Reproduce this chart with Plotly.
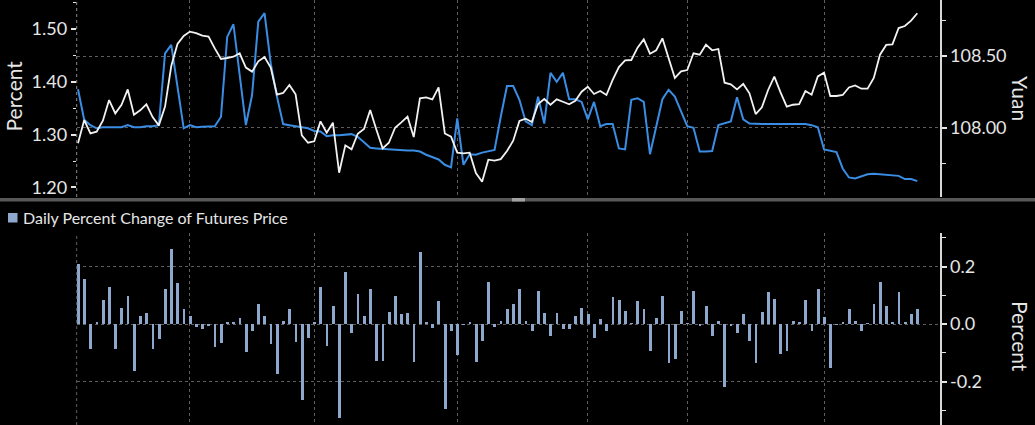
import plotly.graph_objects as go

# trading-day index (x)
days = list(range(136))

# month-start gridline positions (trading-day index)
month_starts = [18, 38, 61, 82, 98, 120]

# Blue line: Percent (left axis)
rate_pct = [
    1.386, 1.328, 1.318, 1.312, 1.314, 1.314, 1.314, 1.314, 1.318, 1.314,
    1.314, 1.316, 1.316, 1.318, 1.454, 1.470, 1.391, 1.312, 1.318, 1.314,
    1.315, 1.315, 1.316, 1.334, 1.485, 1.509, 1.416, 1.318, 1.375, 1.514,
    1.530, 1.435, 1.372, 1.320, 1.318, 1.316, 1.314, 1.312, 1.307, 1.306,
    1.297, 1.299, 1.299, 1.300, 1.301, 1.296, 1.285, 1.275, 1.274, 1.273,
    1.273, 1.272, 1.270, 1.270, 1.270, 1.268, 1.262, 1.257, 1.253, 1.243,
    1.238, 1.331, 1.243, 1.263, 1.262, 1.266, 1.268, 1.271, 1.334, 1.392,
    1.392, 1.366, 1.325, 1.318, 1.372, 1.321, 1.417, 1.400, 1.417, 1.367,
    1.367, 1.362, 1.329, 1.362, 1.316, 1.320, 1.320, 1.274, 1.272, 1.366,
    1.369, 1.362, 1.263, 1.315, 1.367, 1.385, 1.372, 1.344, 1.316, 1.313,
    1.268, 1.268, 1.269, 1.318, 1.321, 1.325, 1.371, 1.329, 1.321, 1.320,
    1.320, 1.320, 1.320, 1.320, 1.320, 1.321, 1.320, 1.320, 1.318, 1.314,
    1.272, 1.270, 1.267, 1.236, 1.219, 1.217, 1.221, 1.225, 1.226, 1.225,
    1.224, 1.222, 1.222, 1.216, 1.216, 1.212,
]

# White line: futures price, Yuan (right axis)
futures_yuan = [
    107.891, 108.053, 107.960, 107.972, 108.049, 108.193, 108.100, 108.160, 108.267, 108.091,
    108.121, 108.163, 108.074, 108.016, 108.147, 108.430, 108.584, 108.640, 108.670, 108.660,
    108.642, 108.635, 108.553, 108.479, 108.486, 108.495, 108.519, 108.419, 108.391, 108.463,
    108.493, 108.419, 108.230, 108.242, 108.298, 108.233, 107.947, 107.895, 107.905, 108.044,
    107.965, 108.035, 107.686, 107.877, 107.849, 107.958, 107.991, 108.123, 107.986, 107.856,
    107.895, 108.000, 108.037, 108.077, 107.935, 108.205, 108.212, 108.198, 108.281, 107.960,
    107.937, 107.826, 107.821, 107.826, 107.684, 107.623, 107.777, 107.770, 107.781, 107.837,
    107.909, 108.047, 108.063, 108.040, 108.165, 108.200, 108.160, 108.198, 108.181, 108.163,
    108.188, 108.251, 108.286, 108.235, 108.256, 108.228, 108.333, 108.423, 108.470, 108.472,
    108.558, 108.616, 108.516, 108.540, 108.623, 108.477, 108.347, 108.393, 108.402, 108.519,
    108.509, 108.579, 108.540, 108.549, 108.314, 108.302, 108.267, 108.305, 108.240, 108.095,
    108.142, 108.263, 108.356, 108.247, 108.147, 108.160, 108.165, 108.256, 108.230, 108.358,
    108.384, 108.221, 108.221, 108.228, 108.281, 108.295, 108.272, 108.272, 108.347, 108.509,
    108.577, 108.581, 108.695, 108.709, 108.747, 108.798,
]

# Bars: daily percent change of futures price
daily_change = [
    0.210, 0.155, -0.086, 0.005, 0.085, 0.130, -0.086, 0.055, 0.098, -0.165,
    0.027, 0.038, -0.086, -0.053, 0.122, 0.261, 0.144, 0.052, 0.028, -0.010,
    -0.019, -0.004, -0.080, -0.066, 0.008, 0.008, 0.021, -0.098, -0.025, 0.071,
    0.028, -0.071, -0.174, 0.012, 0.052, -0.062, -0.266, -0.048, 0.008, 0.130,
    -0.076, 0.064, -0.328, 0.182, -0.033, 0.106, 0.027, 0.122, -0.127, -0.129,
    0.042, 0.098, 0.034, 0.038, -0.131, 0.249, 0.008, -0.015, 0.079, -0.294,
    -0.024, -0.109, -0.003, 0.008, -0.131, -0.060, 0.146, -0.009, 0.012, 0.052,
    0.069, 0.122, 0.012, -0.024, 0.115, 0.038, -0.041, 0.038, -0.018, -0.018,
    0.027, 0.054, 0.035, -0.048, 0.018, -0.024, 0.094, 0.082, 0.046, 0.002,
    0.081, 0.052, -0.093, 0.020, 0.097, -0.136, -0.121, 0.044, 0.003, 0.115,
    -0.007, 0.064, -0.041, 0.012, -0.218, -0.007, -0.033, 0.034, -0.060, -0.136,
    0.042, 0.112, 0.088, -0.104, -0.093, 0.012, 0.005, 0.085, -0.025, 0.121,
    0.025, -0.154, -0.002, 0.008, 0.052, 0.012, -0.024, 0.002, 0.071, 0.147,
    0.061, 0.005, 0.112, 0.008, 0.034, 0.052,
]

left_ticks = [1.20, 1.30, 1.40, 1.50]
right_ticks = [108.00, 108.50]
bottom_ticks = [-0.2, 0.0, 0.2]
bottom_ticktext = ["-0.2", "0.0", "0.2"]
legend_label = "Daily Percent Change of Futures Price"

W, H = 1035, 425
FONT = "Lato"
TXT = "#e6e6e6"
GRID = "#5e5e5e"
BAR = "#8da7cd"
BLUE = "#3a8de2"
WHITE = "#f2f2f2"

x_left, x_right = 76.7 / W, 939.5 / W
top_dom = [1 - 197 / H, 1.0]
bot_dom = [0.0, 1 - 233 / H]

fig = go.Figure()
fig.add_trace(go.Scatter(x=days, y=rate_pct, mode="lines", xaxis="x", yaxis="y",
                         line=dict(color=BLUE, width=2), showlegend=False))
fig.add_trace(go.Scatter(x=days, y=futures_yuan, mode="lines", xaxis="x", yaxis="y2",
                         line=dict(color=WHITE, width=1.8), showlegend=False))
fig.add_trace(go.Bar(x=days, y=daily_change, xaxis="x2", yaxis="y3", width=0.45,
                     marker=dict(color=BAR, line=dict(width=0)), showlegend=False,
                     name=legend_label))

xcommon = dict(domain=[x_left, x_right], range=[-0.21, 138.57], tickvals=month_starts,
               showticklabels=False, ticks="", showgrid=True, gridcolor=GRID,
               griddash="dot", gridwidth=1, zeroline=False, showline=False)
tickfont = dict(family=FONT, size=18, color=TXT)

fig.update_layout(
    width=W, height=H, autosize=False,
    margin=dict(l=0, r=0, t=0, b=0, pad=0),
    paper_bgcolor="black", plot_bgcolor="black",
    font=dict(family=FONT, color=TXT),
    bargap=0,
    xaxis=dict(anchor="y", **xcommon),
    xaxis2=dict(anchor="y3", matches="x", **xcommon),
    yaxis=dict(domain=top_dom, anchor="x", side="left", range=[1.182, 1.5549],
               tickvals=left_ticks, tickformat=".2f", tickfont=tickfont,
               showgrid=False, zeroline=False, showline=False,
               ticks="outside", ticklen=5, tickwidth=2, tickcolor=TXT,
               minor=dict(dtick=0.05, tick0=1.2, ticks="outside", ticklen=3,
                          tickwidth=1, tickcolor=TXT, showgrid=False)),
    yaxis2=dict(overlaying="y", anchor="x", side="right", range=[107.5167, 108.8905],
                tickvals=right_ticks, tickformat=".2f", tickfont=tickfont,
                showgrid=True, gridcolor=GRID, griddash="dot", zeroline=False,
                showline=True, linecolor="#d8d8d8", linewidth=2,
                ticks="outside", ticklen=5, tickwidth=2, tickcolor=TXT,
                minor=dict(tickvals=[107.75, 108.75], ticks="outside", ticklen=4,
                           tickwidth=1, tickcolor=TXT, showgrid=False)),
    yaxis3=dict(domain=bot_dom, anchor="x2", side="right", range=[-0.3513, 0.3165],
                tickvals=bottom_ticks, ticktext=bottom_ticktext, tickfont=tickfont,
                showgrid=True, gridcolor=GRID, griddash="dot", zeroline=False,
                showline=True, linecolor="#d8d8d8", linewidth=2,
                ticks="outside", ticklen=5, tickwidth=2, tickcolor=TXT,
                minor=dict(dtick=0.1, tick0=0, ticks="outside", ticklen=4,
                           tickwidth=1, tickcolor=TXT, showgrid=False)),
)

shapes = [
    # dotted left edge lines
    dict(type="line", xref="paper", yref="paper", x0=x_left, x1=x_left,
         y0=top_dom[0], y1=1, line=dict(color="#8a8a8a", width=1, dash="dot")),
    dict(type="line", xref="paper", yref="paper", x0=x_left, x1=x_left,
         y0=0, y1=bot_dom[1], line=dict(color=GRID, width=1, dash="dot")),
    # panel separator
    dict(type="rect", xref="paper", yref="paper", x0=0, x1=1,
         y0=1 - 201.5 / H, y1=1 - 198 / H, fillcolor="#585858", line=dict(width=0)),
    dict(type="rect", xref="paper", yref="paper", x0=512 / W, x1=525 / W,
         y0=1 - 201.5 / H, y1=1 - 198 / H, fillcolor="#a0a0a0", line=dict(width=0)),
    # legend swatch
    dict(type="rect", xref="paper", yref="paper", x0=8 / W, x1=17.5 / W,
         y0=1 - 222.5 / H, y1=1 - 213 / H, fillcolor=BAR, line=dict(width=0)),
]
fig.update_layout(shapes=shapes)

annotations = [
    dict(text="Percent", xref="paper", yref="paper", x=13.5 / W, y=1 - 96 / H,
         textangle=-90, showarrow=False, xanchor="center", yanchor="middle",
         font=dict(family=FONT, size=21, color=TXT)),
    dict(text="Yuan", xref="paper", yref="paper", x=1021 / W, y=1 - 98 / H,
         textangle=90, showarrow=False, xanchor="center", yanchor="middle",
         font=dict(family=FONT, size=21, color=TXT)),
    dict(text="Percent", xref="paper", yref="paper", x=1021 / W, y=1 - 336 / H,
         textangle=90, showarrow=False, xanchor="center", yanchor="middle",
         font=dict(family=FONT, size=21, color=TXT)),
    dict(text=legend_label, xref="paper", yref="paper", x=21 / W, y=1 - 217.5 / H,
         showarrow=False, xanchor="left", yanchor="middle",
         font=dict(family=FONT, size=16, color=TXT)),
]
fig.update_layout(annotations=annotations)

fig.write_html(
    "out.html",
    config={"displayModeBar": False},
    post_script="document.body.style.margin='0';document.body.style.overflow='hidden';",
)
